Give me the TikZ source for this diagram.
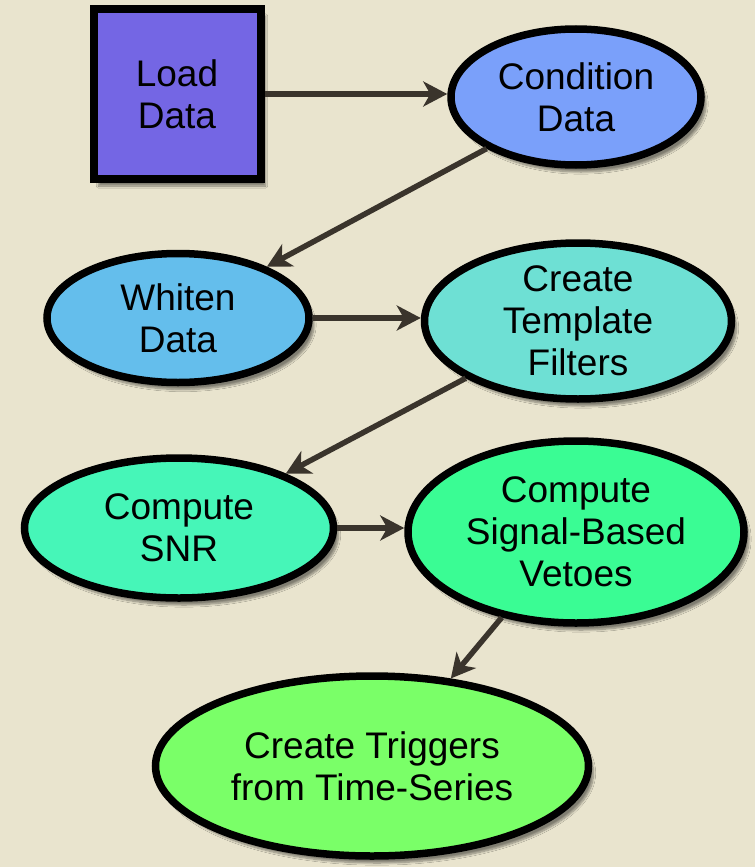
\documentclass[tikz,border=0pt]{standalone}
\usepackage{fontspec}
\setmainfont{Liberation Sans}
\usetikzlibrary{shapes.geometric,arrows.meta,shadows.blur}

\definecolor{paper}{RGB}{233,228,206}
\definecolor{arrowgray}{RGB}{58,52,44}
\definecolor{loadfill}{RGB}{116,102,228}
\definecolor{condfill}{RGB}{122,160,250}
\definecolor{whitenfill}{RGB}{100,190,236}
\definecolor{templfill}{RGB}{110,224,212}
\definecolor{snrfill}{RGB}{70,246,184}
\definecolor{vetofill}{RGB}{58,252,148}
\definecolor{trigfill}{RGB}{122,255,104}

\begin{document}
\begin{tikzpicture}[x=1pt, y=-1pt,
  stage/.style={draw=black, line width=7.5pt, align=center, inner sep=0pt,
    font=\fontsize{37}{42}\selectfont,
    blur shadow={shadow xshift=5pt, shadow yshift=-7pt, shadow opacity=45, shadow blur steps=8}},
  blob/.style={stage, ellipse},
  flow/.style={draw=arrowgray, line width=5.5pt,
    -{Stealth[length=24pt, width=25pt, inset=7pt]}}]
  \fill[paper] (0,0) rectangle (755,867);
  \useasboundingbox (0,0) rectangle (755,867);

  \node[stage, fill=loadfill, line width=8pt, minimum width=167pt, minimum height=170pt]
    (load) at (177,94) {Load\\Data};
  \node[blob, fill=condfill, minimum width=250pt, minimum height=136pt]
    (cond) at (576,97) {Condition\\Data};
  \node[blob, fill=whitenfill, minimum width=262pt, minimum height=129pt]
    (whiten) at (178,318) {Whiten\\Data};
  \node[blob, fill=templfill, minimum width=307pt, minimum height=156pt]
    (templ) at (578,321) {Create\\Template\\Filters};
  \node[blob, fill=snrfill, minimum width=309pt, minimum height=140pt]
    (snr) at (179,528) {Compute\\SNR};
  \node[blob, fill=vetofill, minimum width=336pt, minimum height=182pt]
    (veto) at (576,532) {Compute\\Signal-Based\\Vetoes};
  \node[blob, fill=trigfill, minimum width=433pt, minimum height=180pt]
    (trig) at (372,766) {Create Triggers\\from Time-Series};

  \draw[flow] (load.east) -- (cond.west |- load.east);
  \draw[flow] (cond.210) -- (whiten.30);
  \draw[flow] (whiten.east) -- (templ.west |- whiten.east);
  \draw[flow] (templ.207) -- (snr.27);
  \draw[flow] (snr.east) -- (veto.west |- snr.east);
  \draw[flow] (veto.229) -- (trig.48);
\end{tikzpicture}
\end{document}
